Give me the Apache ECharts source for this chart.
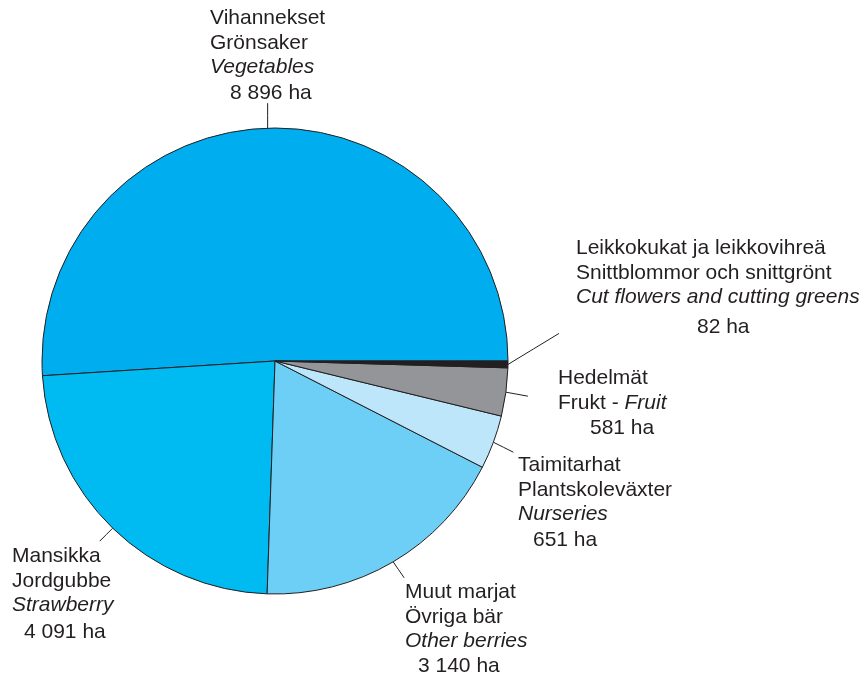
<!DOCTYPE html>
<html>
<head>
<meta charset="utf-8">
<script src="https://cdn.jsdelivr.net/npm/echarts@6/dist/echarts.min.js"></script>
<style>
  html, body { margin: 0; padding: 0; background: #fff; }
  #chart { width: 866px; height: 677px; }
</style>
</head>
<body>
<div id="chart"></div>
<script>
  /*----- data -----*/
  var namesFi = ['Vihannekset', 'Mansikka', 'Muut marjat', 'Taimitarhat', 'Hedelmät', 'Leikkokukat ja leikkovihreä'];
  var namesSv = ['Grönsaker', 'Jordgubbe', 'Övriga bär', 'Plantskoleväxter', 'Frukt', 'Snittblommor och snittgrönt'];
  var namesEn = ['Vegetables', 'Strawberry', 'Other berries', 'Nurseries', 'Fruit', 'Cut flowers and cutting greens'];
  var areas = [8896, 4091, 3140, 651, 581, 82];
  var colors = ['#00aeef', '#00bbf2', '#6dcff6', '#bde6fa', '#939598', '#231f20'];

  /*----- label placement (layout only) -----*/
  var labelPos = [[210, 6], [12, 544], [405, 580], [518, 453], [558, 366], [576, 236]];
  var valueIndent = [20, 12, 13, 15, 32, 121];
  var valueGap = [26, 27, 25, 26, 25, 30];
  var leaderEnd = [[0, -25], [-13, 13], [11, 16], [20, 10], [22, 4], [51, -31]];

  var ink = '#231f20';
  var font = '"Liberation Sans", Arial, sans-serif';
  var lh = 24.5;

  function fmt(v) {
    return String(v).replace(/\B(?=(\d{3})+(?!\d))/g, ' ') + ' ha';
  }

  var rich = {
    n: { fontSize: 21, fontFamily: font, color: ink, lineHeight: lh },
    i: { fontSize: 21, fontFamily: font, color: ink, lineHeight: lh, fontStyle: 'italic' }
  };
  valueIndent.forEach(function (ind, k) {
    rich['v' + k] = {
      fontSize: 21, fontFamily: font, color: ink,
      lineHeight: 2 * (valueGap[k] - lh / 2),
      padding: [0, 0, 0, ind]
    };
  });

  var pieData = areas.map(function (v, k) {
    return { value: v, name: namesEn[k], itemStyle: { color: colors[k] } };
  });

  var option = {
    animation: false,
    series: [{
      type: 'pie',
      center: [275, 361],
      radius: 233,
      startAngle: 0,
      clockwise: false,
      avoidLabelOverlap: false,
      emphasis: { disabled: true },
      itemStyle: { borderColor: ink, borderWidth: 1 },
      data: pieData,
      label: {
        show: true,
        position: 'outside',
        formatter: function (p) {
          var k = p.dataIndex;
          var lines = ['{n|' + namesFi[k] + '}'];
          if (k === 4) {
            lines.push('{n|' + namesSv[k] + ' - }{i|' + namesEn[k] + '}');
          } else {
            lines.push('{n|' + namesSv[k] + '}');
            lines.push('{i|' + namesEn[k] + '}');
          }
          lines.push('{v' + k + '|' + fmt(areas[k]) + '}');
          return lines.join('\n');
        },
        rich: rich
      },
      labelLine: {
        show: true,
        length: 10,
        length2: 10,
        lineStyle: { color: ink, width: 1 }
      },
      labelLayout: function (p) {
        var k = p.dataIndex;
        var s;
        if (p.labelLinePoints && p.labelLinePoints.length) {
          s = p.labelLinePoints[0];
        } else {
          s = [p.rect.x + p.rect.width / 2, p.rect.y + p.rect.height / 2];
        }
        var d = leaderEnd[k];
        return {
          x: labelPos[k][0],
          y: labelPos[k][1],
          align: 'left',
          verticalAlign: 'top',
          labelLinePoints: [
            [s[0], s[1]],
            [s[0] + d[0] / 2, s[1] + d[1] / 2],
            [s[0] + d[0], s[1] + d[1]]
          ]
        };
      }
    }]
  };

  var chart = echarts.init(document.getElementById('chart'));
  chart.setOption(option);
</script>
</body>
</html>
